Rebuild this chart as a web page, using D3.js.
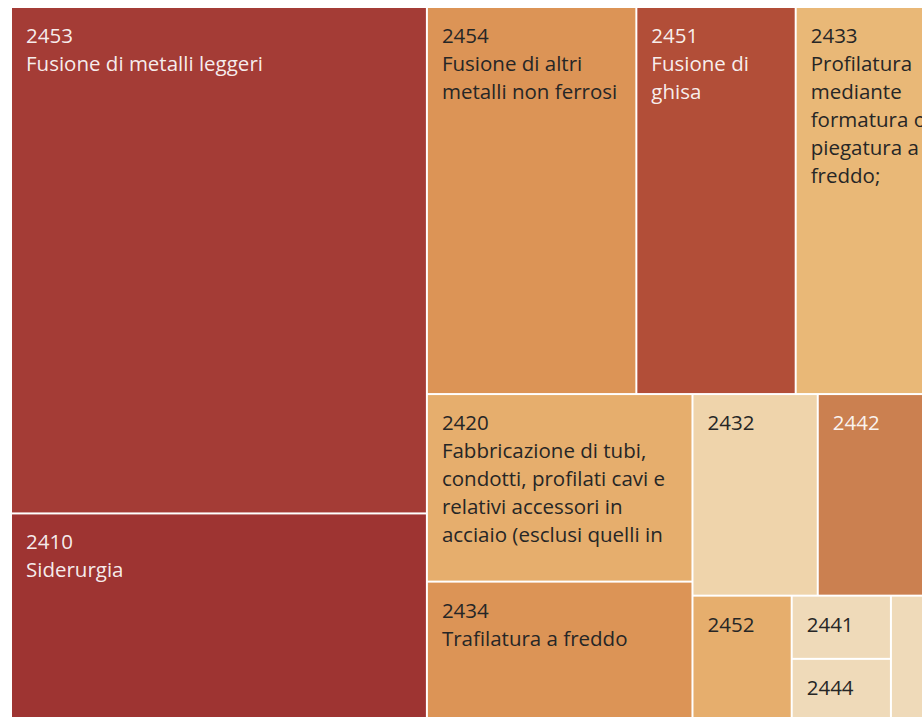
<!DOCTYPE html>
<html>
<head>
<meta charset="utf-8">
<script src="https://cdn.jsdelivr.net/npm/d3@7"></script>
<style>
  html, body { margin: 0; padding: 0; background: #ffffff; overflow: hidden; }
  svg { display: block; }
</style>
</head>
<body>
<svg id="chart" width="922" height="717"></svg>
<script>
// ---- Data ----
const codes = ["2453", "2410", "2454", "2451", "2433", "2420", "2434", "2432", "2442", "2452", "2441", "2444", "2443"];
const names = [
  "Fusione di metalli leggeri",
  "Siderurgia",
  "Fusione di altri metalli non ferrosi",
  "Fusione di ghisa",
  "Profilatura mediante formatura o piegatura a freddo; fabbricazione di pannelli stratificati in acciaio",
  "Fabbricazione di tubi, condotti, profilati cavi e relativi accessori in acciaio (esclusi quelli in acciaio colato)",
  "Trafilatura a freddo",
  "Laminazione a freddo di nastri",
  "Produzione di alluminio e semilavorati",
  "Fusione di acciaio",
  "Produzione di metalli preziosi e semilavorati",
  "Produzione di rame e semilavorati",
  "Produzione di piombo, zinco e stagno e semilavorati"
];
const values = [20958, 8466, 8067, 6137, 5481, 4956, 3604, 2513, 2412, 1208, 624, 584, 573];
// colour measure (relative intensity)
const colorMeasure = [0.9, 1.0, 0.5, 0.75, 0.3, 0.4, 0.5, 0.15, 0.6, 0.4, 0.0, 0.0, 0.0];

// ---- Layout ----
const width = 922, height = 717;
const originX = 12, originY = 8;
const mapW = 925, mapH = 709;   // the view extends slightly past the right edge

const fontFamily = "'Open Sans', 'Noto Sans', sans-serif";
const lineH = 28, padL = 14, padR = 8, firstBase = 35;
const minNameCellW = 130;       // narrower cells show only the code

const svg = d3.select("#chart");

const colorScale = d3.scaleLinear()
  .domain([0, 0.15, 0.3, 0.4, 0.5, 0.6, 0.75, 0.9, 1])
  .range(["#efdab9", "#efd4ab", "#e9b877", "#e6ae6d", "#dc9456", "#cb8050", "#b24e38", "#a43c36", "#9e3432"])
  .interpolate(d3.interpolateRgb);

const rows = codes.map((c, i) => ({ code: c, name: names[i], value: values[i], cm: colorMeasure[i] }));

const root = d3.hierarchy({ children: rows })
  .sum(d => d.value || 0)
  .sort((a, b) => b.value - a.value);

d3.treemap()
  .tile(d3.treemapSquarify.ratio(1.65))
  .size([mapW, mapH])
  .paddingInner(2)(root);

// text measurement
const ctx = document.createElement("canvas").getContext("2d");
function measure(txt, size) {
  ctx.font = `${size}px ${fontFamily}`;
  return ctx.measureText(txt).width;
}
// fit font so the reference string has the reference width
const refW = measure("Fusione di metalli leggeri", 100);
const fontSize = 100 * 237 / refW;

const g = svg.append("g").attr("transform", `translate(${originX},${originY})`);

const leaves = root.leaves();

const cell = g.selectAll("g.cell").data(leaves).join("g")
  .attr("class", "cell")
  .attr("transform", d => `translate(${d.x0},${d.y0})`);

cell.append("clipPath")
  .attr("id", (d, i) => "clip" + i)
  .append("rect")
  .attr("width", d => d.x1 - d.x0)
  .attr("height", d => d.y1 - d.y0);

cell.append("rect")
  .attr("width", d => d.x1 - d.x0)
  .attr("height", d => d.y1 - d.y0)
  .attr("fill", d => colorScale(d.data.cm));

function labelLines(d) {
  const w = d.x1 - d.x0, h = d.y1 - d.y0;
  const maxW = w - padL - padR;
  const out = [];
  if (measure(d.data.code, fontSize) > maxW) return out;
  out.push(d.data.code);
  if (w >= minNameCellW) {
    const words = d.data.name.split(" ");
    let cur = "";
    for (const word of words) {
      const t = cur ? cur + " " + word : word;
      if (measure(t, fontSize) <= maxW) { cur = t; continue; }
      if (cur) out.push(cur);
      if (measure(word, fontSize) > maxW) { cur = ""; break; }
      cur = word;
    }
    if (cur) out.push(cur);
  }
  return out.filter((l, i) => firstBase + i * lineH + 14 <= h);
}

cell.each(function(d, i) {
  const lines = labelLines(d);
  const fill = colorScale(d.data.cm);
  const dark = d3.lab(fill).l < 64;
  const t = d3.select(this).append("text")
    .attr("clip-path", `url(#clip${i})`)
    .attr("font-family", fontFamily)
    .attr("font-size", fontSize)
    .attr("fill", dark ? "#ffffff" : "#262626")
    .attr("fill-opacity", dark ? 0.92 : 1);
  lines.forEach((l, k) => {
    t.append("tspan")
      .attr("x", padL)
      .attr("y", firstBase + k * lineH)
      .text(l);
  });
});
</script>
</body>
</html>
